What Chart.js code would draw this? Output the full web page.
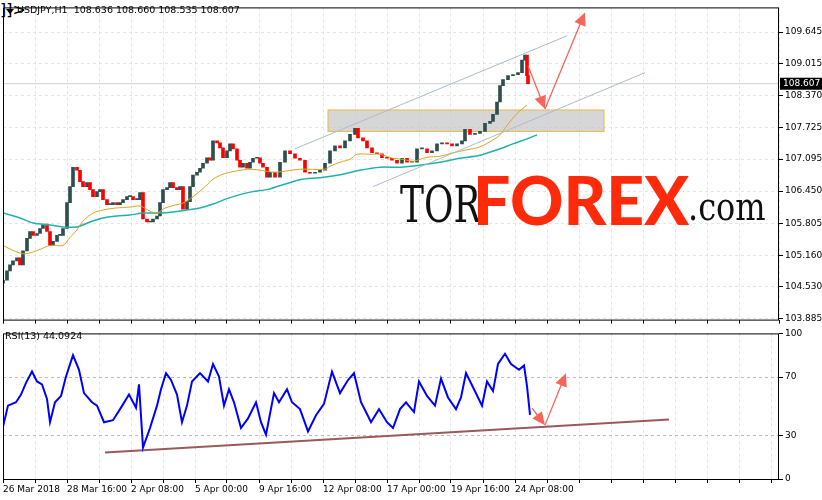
<![CDATA[<!DOCTYPE html>
<html><head><meta charset="utf-8">
<script src="https://cdn.jsdelivr.net/npm/chart.js@4.4.0/dist/chart.umd.min.js"></script>
<style>
body{margin:0;background:#fff;width:822px;height:500px;overflow:hidden;position:relative;font-family:"DejaVu Sans",sans-serif}
canvas{position:absolute;left:0}
#c1{top:0}#c2{top:326px}
.t{position:absolute;white-space:nowrap}
</style></head><body>
<canvas id="c1" width="822" height="327"></canvas>
<canvas id="c2" width="822" height="174"></canvas>
<div class="t" style="left:400px;top:176px;font:50px 'DejaVu Serif';transform:scaleX(0.72);transform-origin:left;color:#111">TOR</div>
<div class="t" style="left:473px;top:160px;font:900 66px 'Lato';color:#ff2a0a;letter-spacing:0px">FOREX</div>
<div class="t" style="left:688px;top:183px;font:40px 'DejaVu Serif';transform:scaleX(0.8);transform-origin:left;color:#111">.com</div>
<script>
const priceTicks=[109.645,109.015,108.370,107.725,107.095,106.450,105.805,105.160,104.530,103.885];
const rsiTicks=[100,70,30,0];
const dateLabels=["26 Mar 2018","28 Mar 16:00","2 Apr 08:00","5 Apr 00:00","9 Apr 16:00","12 Apr 08:00","17 Apr 00:00","19 Apr 16:00","24 Apr 08:00"];
const headerText="USDJPY,H1  108.636 108.660 108.535 108.607";
const rsiText="RSI(13) 44.0924";
const firstOpen=104.60;
const barX=[0,4,7,10,14,17,20,24,27,30,34,37,40,44,47,50,54,57,60,64,67,70,74,77,80,84,87,90,94,97,100,104,107,110,114,117,120,124,127,130,134,137,140,144,147,150,154,157,160,164,167,170,174,177,180,184,187,190,194,197,200,204,207,210,214,217,220,224,227,230,234,237,240,244,247,250,254,257,260,264,267,272,277,282,287,292,297,302,307,312,317,322,327,332,337,342,347,352,355,360,364,369,374,379,384,389,394,399,404,409,414,419,424,429,434,439,444,449,454,459,462,467,472,477,482,487,490,494,497,500,505,510,515,519,522,524,525];
const closes=[104.66,104.85,104.97,105.05,105.11,104.97,105.25,105.50,105.64,105.56,105.60,105.70,105.79,105.64,105.36,105.44,105.56,105.56,105.70,106.22,106.54,106.93,106.87,106.64,106.54,106.62,106.48,106.34,106.44,106.48,106.28,106.18,106.18,106.22,106.18,106.22,106.28,106.34,106.34,106.28,106.28,106.42,105.89,105.83,105.83,105.89,105.95,106.22,106.48,106.52,106.62,106.52,106.48,106.54,106.09,106.24,106.54,106.77,106.83,106.91,107.01,107.12,107.07,107.46,107.42,107.32,107.12,107.26,107.40,107.30,107.07,106.93,107.01,106.91,107.03,107.11,107.12,107.01,106.93,106.73,106.83,106.73,107.03,107.26,107.20,107.11,107.07,106.83,106.81,106.83,106.87,107.01,107.26,107.36,107.32,107.46,107.59,107.71,107.52,107.46,107.32,107.22,107.20,107.12,107.11,107.07,107.01,107.11,107.03,107.03,107.30,107.30,107.22,107.26,107.40,107.42,107.40,107.36,107.40,107.46,107.69,107.59,107.61,107.65,107.81,107.85,107.99,108.24,108.57,108.69,108.77,108.79,108.83,109.08,109.18,108.77,108.607];
const maFastX=[0,10,22,37,47,60,67,74,80,90,100,112,127,137,147,154,162,172,180,190,200,210,220,232,247,257,272,297,322,327,337,347,354,367,377,390,400,410,424,437,450,464,477,490,497,504,514,524];
const maFast=[105.36,105.26,105.19,105.28,105.36,105.36,105.52,105.67,105.85,106.01,106.07,106.11,106.13,106.15,106.05,106.01,106.11,106.17,106.21,106.34,106.50,106.69,106.79,106.85,106.89,106.87,106.83,106.89,106.89,106.95,107.03,107.09,107.19,107.19,107.19,107.11,107.09,107.05,107.13,107.15,107.22,107.28,107.34,107.48,107.58,107.77,108.01,108.18];
const maSlowX=[0,17,30,47,60,74,87,100,114,127,140,157,170,184,197,210,224,237,250,264,297,317,337,357,377,397,417,437,457,477,497,510,524,534];
const maSlow=[106.01,105.91,105.81,105.77,105.73,105.73,105.83,105.91,105.95,105.97,106.01,106.01,106.03,106.07,106.11,106.19,106.30,106.38,106.44,106.48,106.68,106.72,106.78,106.87,106.93,106.93,106.97,107.03,107.11,107.17,107.30,107.40,107.50,107.58];
const rsiX=[0,5,13,18,23,29,34,39,44,47,52,58,63,70,76,81,89,94,101,110,118,126,133,136,140,147,154,158,163,168,174,179,184,189,197,205,210,216,221,226,231,238,245,253,258,263,271,276,284,289,297,305,313,321,329,337,345,351,358,363,368,376,384,390,397,403,411,416,424,432,438,445,453,458,463,471,479,484,490,495,502,508,516,521,524,527];
const rsi=[36,50.4,52.7,58,66,73.8,67,65,55,39,52.7,57,70.4,85,75,59,52.7,50.4,39,40.4,49,58,49,65,21.6,35,50.4,61.6,72.7,68,58,39,50.4,67,72.7,67,79,70.4,50.4,61.6,52.7,35,41.6,52.7,39,30.4,59,52.7,61.6,52.7,48,32.7,43.8,51.6,73.8,59,68,72.7,52.7,46,39,48,39,35,48,52.7,46,67,57,50.4,69,56,48,56,72.7,61.6,50.4,67,60.4,79,86,79,75,78,63.8,44.09];
const rsiTrendX=[102,666];const rsiTrend=[18.2,40.9];
const channelUpper=[[292,107.30],[564,109.57]];
const channelLower=[[370,106.54],[642,108.83]];
const zoneX=[325,601];const zoneY=[107.65,108.08];
const priceArrows=[[[525,108.97],[542,108.10]],[[542,108.10],[582,110.04]]];
const rsiArrows=[[[529,48.7],[542,37]],[[542,37],[563,72.7]]];
const lastPrice=108.607;

function arrow(ctx,x1,y1,x2,y2){
  ctx.save();ctx.strokeStyle='#f6655a';ctx.fillStyle='#f6655a';ctx.lineWidth=1.3;
  const a=Math.atan2(y2-y1,x2-x1);
  ctx.beginPath();ctx.moveTo(x1,y1);ctx.lineTo(x2-8*Math.cos(a),y2-8*Math.sin(a));ctx.stroke();
  ctx.beginPath();ctx.moveTo(x2,y2);ctx.lineTo(x2-13*Math.cos(a)+6*Math.sin(a),y2-13*Math.sin(a)-6*Math.cos(a));
  ctx.lineTo(x2-13*Math.cos(a)-6*Math.sin(a),y2-13*Math.sin(a)+6*Math.cos(a));ctx.closePath();ctx.fill();ctx.restore();
}
const frame={id:'frame',afterDraw(c){const a=c.chartArea,ctx=c.ctx;ctx.save();ctx.strokeStyle='#000';ctx.lineWidth=1;ctx.strokeRect(a.left+.5,a.top+.5,a.right-a.left-1,a.bottom-a.top);ctx.restore();}};
const overlay={id:'ov',beforeDatasetsDraw(c){
  const x=c.scales.x,y=c.scales.y,ctx=c.ctx;ctx.save();
  const yp=y.getPixelForValue(lastPrice);
  ctx.strokeStyle='#cfcfcf';ctx.beginPath();ctx.moveTo(c.chartArea.left,yp);ctx.lineTo(c.chartArea.right,yp);ctx.stroke();
  const x0=x.getPixelForValue(zoneX[0]),x1=x.getPixelForValue(zoneX[1]),y0=y.getPixelForValue(zoneY[1]),y1=y.getPixelForValue(zoneY[0]);
  ctx.fillStyle='rgba(200,200,200,0.75)';ctx.fillRect(x0,y0,x1-x0,y1-y0);
  ctx.strokeStyle='#e8b84a';ctx.strokeRect(x0,y0,x1-x0,y1-y0);
  ctx.restore();},
 afterDatasetsDraw(c){
  const x=c.scales.x,y=c.scales.y,ctx=c.ctx;ctx.save();
  ctx.strokeStyle='#aabccc';ctx.lineWidth=1;
  [channelUpper,channelLower].forEach(l=>{ctx.beginPath();ctx.moveTo(x.getPixelForValue(l[0][0]),y.getPixelForValue(l[0][1]));ctx.lineTo(x.getPixelForValue(l[1][0]),y.getPixelForValue(l[1][1]));ctx.stroke();});
  priceArrows.forEach(p=>arrow(ctx,x.getPixelForValue(p[0][0]),y.getPixelForValue(p[0][1]),x.getPixelForValue(p[1][0]),y.getPixelForValue(p[1][1])));
  const yp=y.getPixelForValue(lastPrice);
  ctx.fillStyle='#000';ctx.fillRect(c.chartArea.right+1,yp-6,42,12);
  ctx.fillStyle='#fff';ctx.font='9px "DejaVu Sans"';ctx.textBaseline='middle';ctx.fillText(lastPrice.toFixed(3),c.chartArea.right+4,yp);
  ctx.fillStyle='#000';ctx.beginPath();ctx.moveTo(6,9);ctx.lineTo(14,9);ctx.lineTo(10,14);ctx.closePath();ctx.fill();
  ctx.font='9.5px "DejaVu Sans"';ctx.textBaseline='middle';ctx.fillText(headerText,17,11);
  ctx.restore();}};
const rsiOv={id:'rov',afterDatasetsDraw(c){const x=c.scales.x,y=c.scales.y,ctx=c.ctx;
  rsiArrows.forEach(p=>arrow(ctx,x.getPixelForValue(p[0][0]),y.getPixelForValue(p[0][1]),x.getPixelForValue(p[1][0]),y.getPixelForValue(p[1][1])));
  ctx.save();ctx.fillStyle='#000';ctx.font='9.5px "DejaVu Sans"';ctx.textBaseline='middle';ctx.fillText(rsiText,5,11);ctx.restore();}};
const gridC='#e4e4e4';
const xCommon={type:'linear',min:0,max:776,offset:false,grid:{color:gridC,offset:false,drawTicks:true,tickLength:4,tickColor:'#000'},border:{display:false,dash:[3,3]}};
Chart.defaults.animation=false;Chart.defaults.font.family='"DejaVu Sans"';Chart.defaults.font.size=9;Chart.defaults.color='#000';
new Chart(document.getElementById('c1'),{
 data:{datasets:[
  {type:'bar',data:barX.map((x,i)=>({x,y:[i?closes[i-1]:firstOpen,closes[i]]})),barThickness:3,minBarLength:1,
   backgroundColor:ctx=>{const r=ctx.raw;return r&&r.y[1]>=r.y[0]?'#2f4f4f':'#ff0000';},order:2},
  {type:'line',data:maFastX.map((x,i)=>({x,y:maFast[i]})),borderColor:'#daa520',borderWidth:1,pointRadius:0,tension:0.3,order:1},
  {type:'line',data:maSlowX.map((x,i)=>({x,y:maSlow[i]})),borderColor:'#20b2aa',borderWidth:1.5,pointRadius:0,tension:0.3,order:1}]},
 options:{responsive:false,layout:{padding:{top:3,left:3}},plugins:{legend:{display:false},tooltip:{enabled:false}},
  scales:{x:{...xCommon,ticks:{display:false,stepSize:32},afterFit:s=>{s.height=5;}},
   y:{position:'right',min:103.87,max:110.14,afterBuildTicks:s=>{s.ticks=priceTicks.map(v=>({value:v}));},
    ticks:{callback:v=>v.toFixed(3),padding:2},grid:{color:gridC,tickColor:'#000',tickLength:4},border:{display:false,dash:[3,3]},afterFit:s=>{s.width=43;}}}},
 plugins:[overlay,frame]});
new Chart(document.getElementById('c2'),{
 data:{datasets:[
  {type:'line',data:rsiX.map((x,i)=>({x,y:rsi[i]})),borderColor:'#0000ff',borderWidth:2,pointRadius:0},
  {type:'line',data:rsiTrendX.map((x,i)=>({x,y:rsiTrend[i]})),borderColor:'#9a5a5a',borderWidth:2,pointRadius:0}]},
 options:{responsive:false,layout:{padding:{top:3,left:3}},plugins:{legend:{display:false},tooltip:{enabled:false}},
  scales:{x:{...xCommon,afterBuildTicks:s=>{const t=[];for(let v=0;v<=768;v+=32)t.push({value:v});s.ticks=t;},
    ticks:{autoSkip:false,maxRotation:0,align:'start',padding:1,callback:v=>(v%64===0&&v/64<dateLabels.length)?dateLabels[v/64]:''},afterFit:s=>{s.height=21;}},
   y:{position:'right',min:0,max:100,afterBuildTicks:s=>{s.ticks=rsiTicks.map(v=>({value:v}));},
    ticks:{padding:2},grid:{color:c=>(c.tick&&(c.tick.value===70||c.tick.value===30))?'#bbbbbb':'rgba(0,0,0,0)',tickColor:'#000',tickLength:4},border:{display:false,dash:[3,3]},afterFit:s=>{s.width=43;}}}},
 plugins:[rsiOv,frame]});
</script></body></html>]]>
